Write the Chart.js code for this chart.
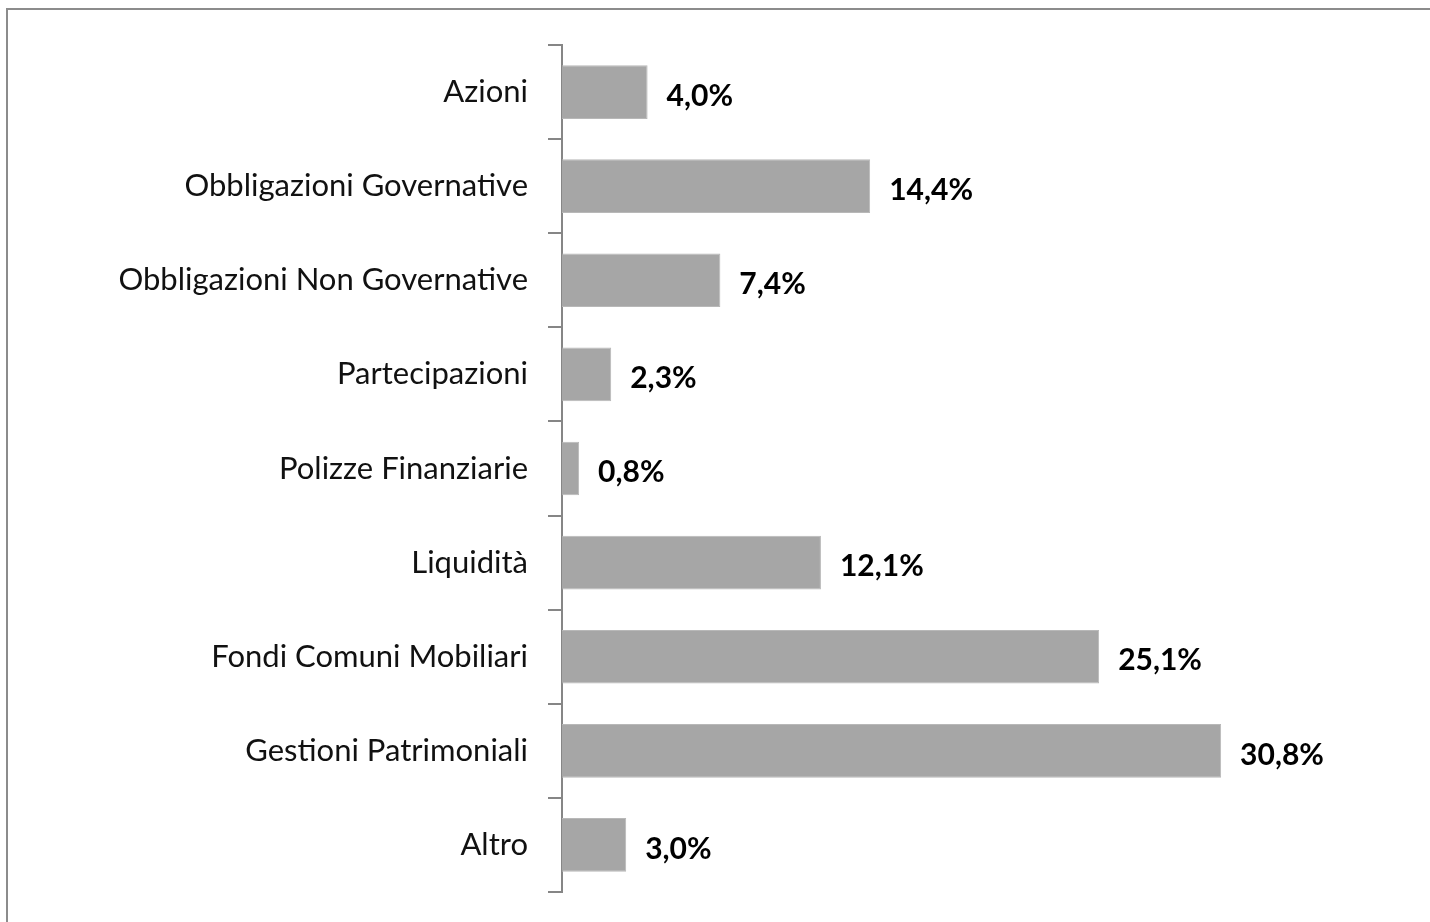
<!DOCTYPE html>
<html>
<head>
<meta charset="utf-8">
<script src="https://cdn.jsdelivr.net/npm/chart.js@4/dist/chart.umd.min.js"></script>
<style>
    html, body { margin: 0; padding: 0; background: #fff; }
    #wrap { position: relative; width: 1430px; height: 922px; overflow: hidden; }
    #frame { position: absolute; left: 6px; top: 8px; width: 1500px; height: 1000px;
             border-left: 2px solid #8c8c8c; border-top: 2px solid #8c8c8c; box-sizing: border-box; }
    canvas { position: absolute; left: 0; top: 0; }
</style>
</head>
<body>
<div id="wrap">
    <div id="frame"></div>
    <canvas id="chart" width="1430" height="922"></canvas>
</div>
<script>
/* ===== Data ===== */
const categories = [
    'Azioni',
    'Obbligazioni Governative',
    'Obbligazioni Non Governative',
    'Partecipazioni',
    'Polizze Finanziarie',
    'Liquidità',
    'Fondi Comuni Mobiliari',
    'Gestioni Patrimoniali',
    'Altro'
];
const shares = [4.0, 14.4, 7.4, 2.3, 0.8, 12.1, 25.1, 30.8, 3.0];
const shareLabels = ['4,0%', '14,4%', '7,4%', '2,3%', '0,8%', '12,1%', '25,1%', '30,8%', '3,0%'];

/* ===== Value labels ===== */
const valueLabels = {
    id: 'valueLabels',
    afterDatasetsDraw(chart){
        const ctx = chart.ctx;
        const meta = chart.getDatasetMeta(0);
        ctx.save();
        ctx.font = 'bold 30px Lato';
        ctx.fillStyle = '#000';
        ctx.textAlign = 'left';
        ctx.textBaseline = 'middle';
        meta.data.forEach((bar, i) => {
            ctx.fillText(shareLabels[i], bar.x + 19, bar.y + 4);
        });
        ctx.restore();
    }
};

/* ===== Chart ===== */
new Chart(document.getElementById('chart'), {
    type: 'bar',
    data: {
        labels: categories,
        datasets: [{
            data: shares,
            backgroundColor: '#a6a6a6',
            borderColor: '#b8b8b8',
            borderWidth: 1,
            categoryPercentage: 1,
            barPercentage: 0.57
        }]
    },
    options: {
        indexAxis: 'y',
        responsive: false,
        animation: false,
        layout: { padding: { top: 45, bottom: 30, right: 12, left: 0 } },
        plugins: {
            legend: { display: false },
            tooltip: { enabled: false }
        },
        scales: {
            x: {
                display: false,
                min: 0,
                max: 40
            },
            y: {
                afterFit(scale){
                    scale.width = 562;
                    scale.paddingTop = 0;
                    scale.paddingBottom = 0;
                },
                border: { display: true, color: '#868686', width: 2 },
                grid: {
                    offset: true,
                    drawOnChartArea: false,
                    tickLength: 14,
                    color: '#868686',
                    lineWidth: 2
                },
                ticks: {
                    padding: 20,
                    color: '#111',
                    font: { family: 'Lato', size: 31 }
                }
            }
        }
    },
    plugins: [valueLabels]
});
</script>
</body>
</html>
